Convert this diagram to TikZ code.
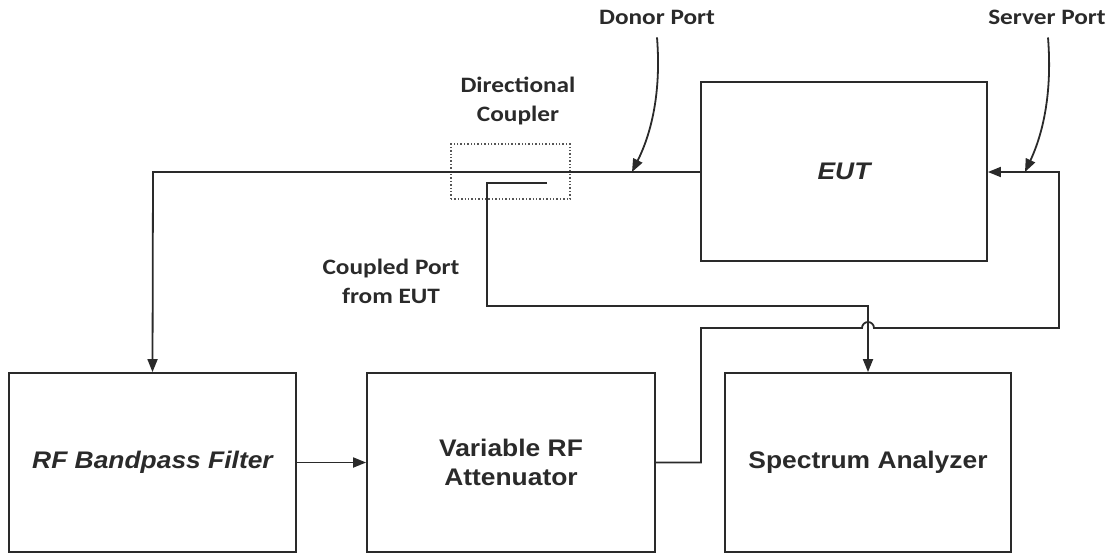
\documentclass[tikz,border=0pt]{standalone}
\usepackage{fontspec}
\setmainfont[FakeStretch=1.1]{Liberation Sans}
\newfontfamily\lblfont[FakeStretch=1.15]{Carlito}
\usetikzlibrary{arrows.meta,calc}
\definecolor{ink}{HTML}{2A2A2A}
\tikzset{
  blk/.style={draw=ink, line width=1.8pt, rectangle, minimum width=#1, minimum height=179pt, inner sep=0pt,
     font=\fontsize{24}{29}\selectfont\bfseries, text=ink, align=center},
  lbl/.style={font=\lblfont\fontsize{22}{29}\selectfont\bfseries, text=ink, align=center, inner sep=0pt},
  wire/.style={draw=ink, line width=1.8pt},
  tip/.style={-{Triangle[length=13pt,width=10pt]}},
  cpl/.style={draw=ink!80, line width=1.4pt, dotted, rectangle, minimum width=119pt, minimum height=55pt, inner sep=0pt}
}
\begin{document}
\begin{tikzpicture}[x=1pt,y=-1pt]
\useasboundingbox (0,0) rectangle (1117,555);
% blocks
\node[blk=286pt] (eut) at (844,171.5) {\itshape EUT};
\node[blk=287pt] (flt) at (152.5,462.5) {\itshape RF Bandpass Filter};
\node[blk=288pt] (att) at (511,462.5) {Variable RF\\Attenuator};
\node[blk=286pt] (spa) at (868,462.5) {Spectrum Analyzer};
\node[cpl] (dc) at (510.5,171.5) {};
% labels
\node[lbl] (lcpl) at (518,101) {Directional\\Coupler};
\node[lbl] (ldon) at (657,17) {Donor Port};
\node[lbl] (lsrv) at (1047,17) {Server Port};
\node[lbl] (lcp) at (391,281) {Coupled Port\\from EUT};
% coordinates
\coordinate (cin) at (547,183);
\coordinate (donor) at (632,172);
\coordinate (server) at (1025,172);
% main line: EUT -> filter
\draw[wire,tip] (eut.west |- 0,172) -- (153,172) -- (flt.north);
% filter -> attenuator
\draw[wire,tip] (flt.east) -- (att.west);
% attenuator -> EUT (server port) with hop
\draw[wire,tip] (att.east) -- (701,462.5) -- (701,328) -- (862,328) arc (180:360:6) -- (1059,328) -- (1059,172) -- (eut.east |- 0,172);
% coupled port -> spectrum analyzer
\draw[wire,tip] (cin) -- (487,183) -- (487,306) -- (868,306) -- (spa.north);
% port pointers
\draw[wire,tip] ($(ldon.south)+(0,13)$) .. controls (662,100) and (648,140) .. (donor);
\draw[wire,tip] ($(lsrv.south)+(1,13)$) .. controls (1053,100) and (1040,140) .. (server);
\end{tikzpicture}
\end{document}
